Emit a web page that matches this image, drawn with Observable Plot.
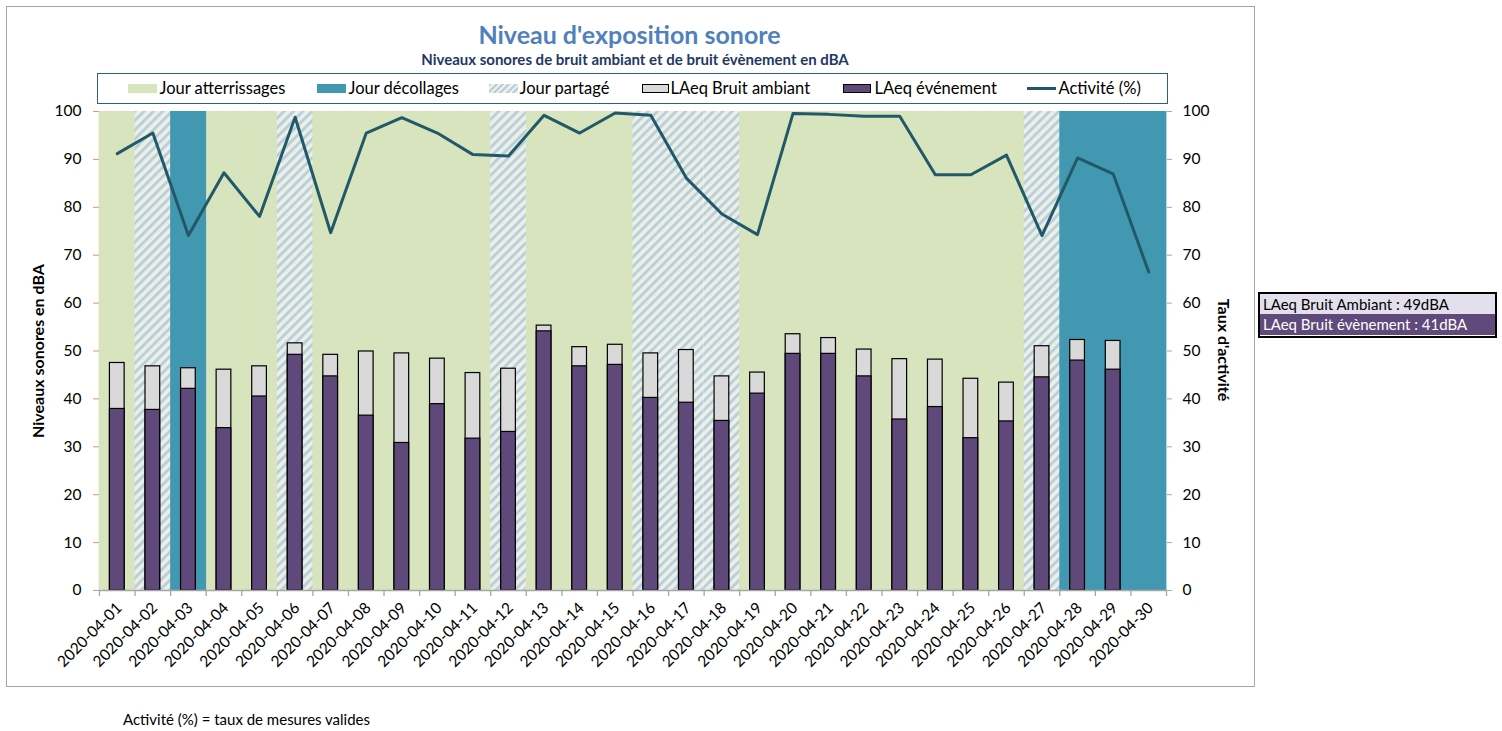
<!DOCTYPE html>
<html><head><meta charset="utf-8">
<script src="https://cdn.jsdelivr.net/npm/d3@7"></script>
<script src="https://cdn.jsdelivr.net/npm/@observablehq/plot@0.6"></script>
<style>
body{margin:0;background:#fff;font-family:Lato,"Noto Sans",sans-serif;}
#wrap{position:relative;width:1502px;height:731px;overflow:hidden;}
.abs{position:absolute;white-space:nowrap;}
.sw{position:absolute;height:9px;width:29px;box-sizing:border-box;}
.lt{position:absolute;font-size:16.5px;line-height:20px;color:#000;white-space:nowrap;}
</style></head><body><div id="wrap">
<div class="abs" style="left:6px;top:6px;width:1249px;height:681px;border:1px solid #A6A6A6;box-sizing:border-box;"></div>
<div class="abs" style="left:0;width:1259px;top:19px;text-align:center;font-weight:bold;font-size:25px;line-height:30px;color:#4F81BD;">Niveau d'exposition sonore</div>
<div class="abs" style="left:0;width:1270px;top:50px;text-align:center;font-weight:bold;font-size:15px;line-height:18px;color:#1F3864;">Niveaux sonores de bruit ambiant et de bruit évènement en dBA</div>
<div class="abs" id="legend" style="left:97px;top:73px;width:1071px;height:31px;border:1.5px solid #2F6374;box-sizing:border-box;"></div>
<div id="chart" class="abs" style="left:0;top:104px;"></div>
<div class="abs" style="left:37px;top:351px;transform:translate(-50%,-50%) rotate(-90deg);font-weight:bold;font-size:16px;">Niveaux sonores en dBA</div>
<div class="abs" style="left:1224px;top:350px;transform:translate(-50%,-50%) rotate(90deg);font-weight:bold;font-size:16px;">Taux d'activité</div>
<div class="abs" style="left:1258px;top:292px;width:239px;height:46px;border:2.5px solid #000;box-sizing:border-box;font-size:15px;">
  <div style="height:20px;line-height:20px;background:#E4DFEC;color:#000;padding-left:3px;">LAeq Bruit Ambiant : 49dBA</div>
  <div style="height:21px;line-height:21px;background:#604A7B;color:#fff;padding-left:3px;">LAeq Bruit évènement : 41dBA</div>
</div>
<div class="abs" style="left:123px;top:710px;font-size:15px;line-height:18px;">Activité (%) = taux de mesures valides</div>
</div>
<script>
const dates = ["2020-04-01","2020-04-02","2020-04-03","2020-04-04","2020-04-05","2020-04-06","2020-04-07","2020-04-08","2020-04-09","2020-04-10","2020-04-11","2020-04-12","2020-04-13","2020-04-14","2020-04-15","2020-04-16","2020-04-17","2020-04-18","2020-04-19","2020-04-20","2020-04-21","2020-04-22","2020-04-23","2020-04-24","2020-04-25","2020-04-26","2020-04-27","2020-04-28","2020-04-29","2020-04-30"];
// A = Jour atterrissages, D = Jour décollages, P = Jour partagé
const dayType = ["A","P","D","A","A","P","A","A","A","A","A","P","A","A","A","P","P","P","A","A","A","A","A","A","A","A","P","D","D","D"];
const laeqAmbiant = [47.5,46.8,46.4,46.1,46.8,51.6,49.2,49.9,49.5,48.4,45.4,46.3,55.3,50.8,51.3,49.5,50.2,44.7,45.5,53.5,52.7,50.3,48.3,48.2,44.2,43.4,51.0,52.3,52.1,null];
const laeqEvenement = [37.9,37.7,42.1,33.9,40.5,49.2,44.7,36.5,30.8,38.9,31.7,33.1,54.1,46.8,47.1,40.2,39.2,35.4,41.1,49.4,49.4,44.7,35.7,38.3,31.8,35.3,44.5,48.0,46.1,null];
const activite = [91.2,95.5,74.1,87.2,78.1,98.8,74.7,95.5,98.7,95.5,91.0,90.7,99.2,95.5,99.7,99.2,86.1,78.6,74.3,99.6,99.4,99.0,99.0,86.8,86.8,90.9,74.1,90.3,87.0,66.5];
const yTicks = [0,10,20,30,40,50,60,70,80,90,100];
const legendLabels = ["Jour atterrissages","Jour décollages","Jour partagé","LAeq Bruit ambiant","LAeq événement","Activité (%)"];

const C = {A:"#D7E4BD", D:"#4298B1", hatchBg:"#EBF1DE", hatch:"#B9CDE5", amb:"#D9D9D9", evt:"#5F497A", line:"#215968", axis:"#A6A6A6"};

const rows = dates.map((d,i)=>({date:d, type:dayType[i], amb:laeqAmbiant[i], evt:laeqEvenement[i], act:activite[i]}));
const W = 1254, H = 583, mL = 99, mR = 88, mT = 7, mB = 97;
const bw = (W - mL - mR) / dates.length;
const inset = (bw - 14.7) / 2;
const bgOpts = {insetLeft:-0.4, insetRight:-0.4};

const plot = Plot.plot({
  width: W, height: H, marginLeft: mL, marginRight: mR, marginTop: mT, marginBottom: mB,
  style: {fontFamily: "Lato, 'Noto Sans', sans-serif", fontSize: "15px", color: "#000", background: "transparent", overflow: "visible"},
  x: {type: "band", domain: dates, padding: 0, round: false, label: null},
  y: {domain: [0, 100], label: null},
  marks: [
    Plot.barY(rows.filter(r=>r.type==="A"), {x:"date", y1:0, y2:100, fill:C.A, ...bgOpts}),
    Plot.barY(rows.filter(r=>r.type==="D"), {x:"date", y1:0, y2:100, fill:C.D, ...bgOpts}),
    Plot.barY(rows.filter(r=>r.type==="P"), {x:"date", y1:0, y2:100, fill:"url(#hatch)"}),
    Plot.barY(rows.filter(r=>r.amb!=null), {x:"date", y:"amb", fill:C.amb, stroke:"#000", strokeWidth:1.2, insetLeft:inset, insetRight:inset}),
    Plot.barY(rows.filter(r=>r.evt!=null), {x:"date", y:"evt", fill:C.evt, stroke:"#000", strokeWidth:1.2, insetLeft:inset, insetRight:inset}),
    Plot.line(rows, {x:"date", y:"act", stroke:C.line, strokeWidth:3}),
    Plot.ruleY([0], {stroke:C.axis, strokeWidth:1.5}),
    Plot.ruleX(dates, {x:d=>d, y1:0, y2:-1.25, dx:-bw/2, stroke:C.axis, strokeWidth:1.3}),
    Plot.ruleX([dates[dates.length-1]], {x:d=>d, y1:0, y2:-1.25, dx:bw/2, stroke:C.axis, strokeWidth:1.3}),
    Plot.axisY({anchor:"left", ticks:yTicks, tickSize:6, tickPadding:12, stroke:C.axis, fill:"#000", line:true, label:null, fontSize:15.5}),
    Plot.axisY({anchor:"right", ticks:yTicks, tickSize:5, tickPadding:11, stroke:C.axis, fill:"#000", line:true, label:null, fontSize:15.5}),
    Plot.axisX({anchor:"bottom", tickSize:0, tickPadding:15, tickRotate:-45, fill:"#000", label:null, fontSize:15.5, dx:2})
  ]
});

const defs = d3.select(plot).insert("defs", ":first-child");
const pat = defs.append("pattern").attr("id","hatch").attr("patternUnits","userSpaceOnUse")
  .attr("width",6.6).attr("height",6.6).attr("patternTransform","rotate(45)");
pat.append("rect").attr("width",6.6).attr("height",6.6).attr("fill",C.hatchBg);
pat.append("rect").attr("width",2.9).attr("height",6.6).attr("fill",C.hatch);
document.getElementById("chart").appendChild(plot);

// legend
const lg = document.getElementById("legend");
const items = [
  {x:128, tx:160, kind:"A"},
  {x:317, tx:349, kind:"D"},
  {x:489, tx:520, kind:"P"},
  {x:642, tx:671, kind:"amb"},
  {x:843, tx:875, kind:"evt"},
  {x:1027, tx:1059, kind:"line"}
];
items.forEach((it,i)=>{
  const sw = document.createElement("div");
  sw.className = "sw";
  sw.style.left = (it.x - 98.5) + "px";
  sw.style.top = "10px";
  if (it.kind==="A") sw.style.background = C.A;
  if (it.kind==="D") sw.style.background = C.D;
  if (it.kind==="P") sw.style.background = `repeating-linear-gradient(-45deg, ${C.hatchBg} 0 2.5px, ${C.hatch} 2.5px 4.5px)`;
  if (it.kind==="amb") {sw.style.background = C.amb; sw.style.border = "1px solid #000"; sw.style.width="27px";}
  if (it.kind==="evt") {sw.style.background = C.evt; sw.style.border = "1px solid #000"; sw.style.width="28px";}
  if (it.kind==="line") {sw.style.height = "3px"; sw.style.top = "13px"; sw.style.width="29px"; sw.style.background = C.line;}
  lg.appendChild(sw);
  const t = document.createElement("div");
  t.className = "lt";
  t.style.left = (it.tx - 98.5) + "px";
  t.style.top = "3.5px";
  t.textContent = legendLabels[i];
  lg.appendChild(t);
});
</script>
</body></html>
